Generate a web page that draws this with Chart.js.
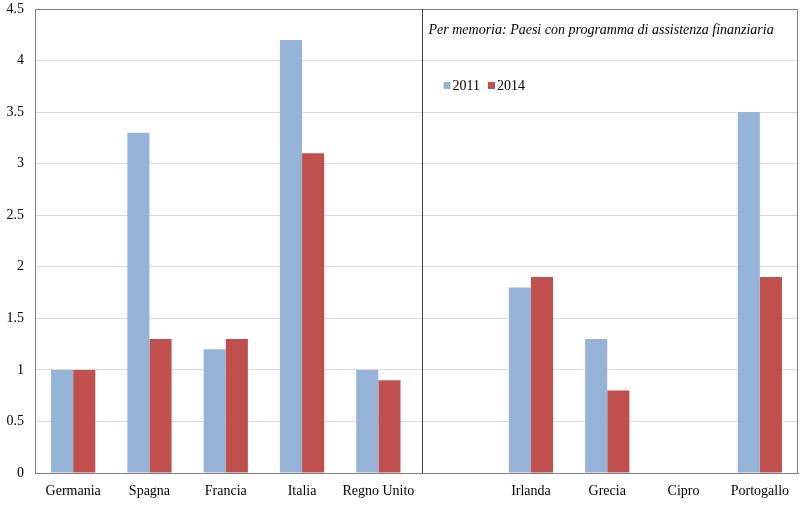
<!DOCTYPE html>
<html>
<head>
<meta charset="utf-8">
<script src="https://cdn.jsdelivr.net/npm/chart.js@4/dist/chart.umd.min.js"></script>
<style>
  html, body { margin: 0; padding: 0; background: #fff; }
  #wrap { width: 804px; height: 508px; }
</style>
</head>
<body>
<div id="wrap"><canvas id="grafico"></canvas></div>
<script>
// Dati
const paesi      = ['Germania', 'Spagna', 'Francia', 'Italia', 'Regno Unito', '', 'Irlanda', 'Grecia', 'Cipro', 'Portogallo'];
const valori2011 = [1.0, 3.3, 1.2, 4.2, 1.0, null, 1.8, 1.3, null, 3.5];
const valori2014 = [1.0, 1.3, 1.3, 3.1, 0.9, null, 1.9, 0.8, null, 1.9];
const tickY      = [0, 0.5, 1, 1.5, 2, 2.5, 3, 3.5, 4, 4.5];
const nota       = 'Per memoria: Paesi con programma di assistenza finanziaria';

const FONT = "'Liberation Serif', 'Times New Roman', serif";

// Cornice, separatore, nota e legenda
const decorazioni = {
  id: 'decorazioni',
  afterDraw(chart) {
    const { ctx, chartArea: a, scales } = chart;
    ctx.save();
    ctx.strokeStyle = '#7f7f7f';
    ctx.lineWidth = 1;
    ctx.beginPath();
    ctx.moveTo(a.left, a.top + 0.5);
    ctx.lineTo(a.right - 0.5, a.top + 0.5);
    ctx.lineTo(a.right - 0.5, a.bottom);
    ctx.stroke();

    // separatore verticale
    const xs = Math.round(scales.x.getPixelForValue(4.57)) + 0.5;
    ctx.strokeStyle = '#404040';
    ctx.beginPath();
    ctx.moveTo(xs, a.top);
    ctx.lineTo(xs, a.bottom);
    ctx.stroke();

    ctx.fillStyle = '#000';
    ctx.font = 'italic 14px ' + FONT;
    ctx.textBaseline = 'middle';
    ctx.fillText(nota, xs + 6, 30);

    // legenda
    ctx.font = '14px ' + FONT;
    let x = xs + 21;
    chart.data.datasets.forEach((ds) => {
      ctx.fillStyle = ds.backgroundColor;
      ctx.fillRect(x, 82, 7, 7);
      ctx.fillStyle = '#000';
      ctx.fillText(ds.label, x + 9, 86);
      x += 9 + ctx.measureText(ds.label).width + 8;
    });
    ctx.restore();
  },
};

new Chart(document.getElementById('grafico'), {
  type: 'bar',
  data: {
    labels: paesi,
    datasets: [
      { label: '2011', data: valori2011, backgroundColor: '#95b3d7' },
      { label: '2014', data: valori2014, backgroundColor: '#c0504d' },
    ],
  },
  options: {
    responsive: true,
    maintainAspectRatio: false,
    animation: false,
    layout: { padding: { top: 9, right: 6, left: 0, bottom: 0 } },
    datasets: { bar: { categoryPercentage: 0.58, barPercentage: 1.0 } },
    plugins: {
      legend: { display: false },
      tooltip: { enabled: false },
    },
    scales: {
      x: {
        grid: { display: false, drawTicks: false },
        border: { display: true, color: '#7f7f7f' },
        ticks: { color: '#000', font: { family: FONT, size: 14 }, padding: 10, maxRotation: 0, autoSkip: false },
        afterFit(scale) { scale.height = 35; scale.paddingLeft = 0; scale.paddingRight = 0; },
      },
      y: {
        min: 0,
        max: 4.5,
        afterBuildTicks(scale) { scale.ticks = tickY.map((v) => ({ value: v })); },
        grid: { color: '#d9d9d9', drawTicks: false },
        border: { display: true, color: '#7f7f7f' },
        ticks: { color: '#000', font: { family: FONT, size: 14 }, padding: 11, callback: (v) => String(v) },
        afterFit(scale) { scale.width = 35; scale.paddingTop = 0; scale.paddingBottom = 0; },
      },
    },
  },
  plugins: [decorazioni],
});
</script>
</body>
</html>
